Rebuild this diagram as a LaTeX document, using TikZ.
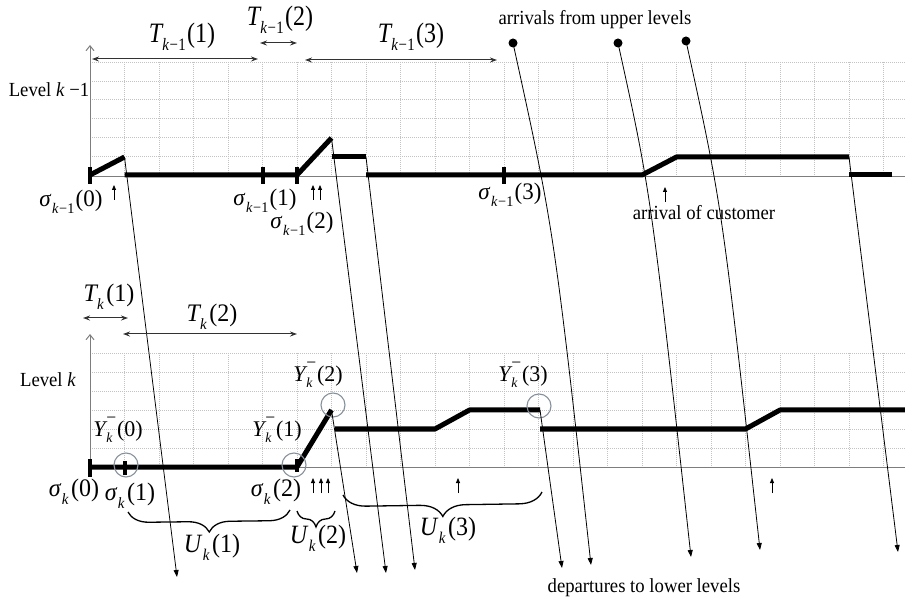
\documentclass[tikz,border=0pt]{standalone}
\usepackage{fontspec}
\setmainfont{Liberation Serif}
\usepackage{graphicx}
\usetikzlibrary{arrows.meta,decorations.pathreplacing}
\definecolor{gridc}{RGB}{195,195,195}
\definecolor{axisc}{RGB}{125,125,125}
\definecolor{circc}{RGB}{135,145,155}
\definecolor{darr}{RGB}{50,50,50}
\newcommand{\vs}[2]{\scalebox{1}[#1]{#2}}
\newcommand{\subs}[1]{\raisebox{-0.3em}{\scalebox{0.62}{#1}}}
\newcommand{\km}{\textit{k}\kern0.04em−\kern0.02em1}
\newcommand{\Tkm}[1]{\vs{1.17}{\textit{T}\kern-0.06em\subs{\km}\kern0.05em(#1)}}
\newcommand{\Tkk}[1]{\vs{1.05}{\textit{T}\kern-0.06em\subs{\textit{k}}\kern0.1em(#1)}}
\newcommand{\Skm}[1]{\vs{1.03}{\textit{σ}\kern0.02em\subs{\km}\kern0.05em(#1)}}
\newcommand{\Skk}[1]{\vs{1.05}{\textit{σ}\kern0.02em\subs{\textit{k}}\kern0.1em(#1)}}
\newcommand{\Ukk}[1]{\vs{1.1}{\textit{U}\kern0.02em\subs{\textit{k}}\kern0.1em(#1)}}
\newcommand{\Ykk}[1]{\vs{1.02}{\textit{Y}\kern-0.05em\rlap{\raisebox{0.55em}{\scalebox{0.8}{−}}}\subs{\textit{k}}\kern0.2em(#1)}}
\newcommand{\tx}[1]{\vs{1.07}{#1}}
\begin{document}
\begin{tikzpicture}[x=1pt,y=-1pt,
  txt/.style={inner sep=0pt,font=\fontsize{18.7}{20}\selectfont},
  mlab/.style={inner sep=0pt,font=\fontsize{24}{26}\selectfont},
  slab/.style={inner sep=0pt,font=\fontsize{23}{25}\selectfont},
  ylab/.style={inner sep=0pt,font=\fontsize{22}{24}\selectfont},
  gridline/.style={gridc,line width=0.6pt,dash pattern=on 1pt off 1pt},
  axisline/.style={axisc,line width=1pt},
  axarrow/.style={axisc,line width=1pt,-{Straight Barb[length=5pt,width=8pt]}},
  level/.style={line width=5pt,line join=round},
  tickmark/.style={line width=4pt},
  circ/.style={circle,draw=circc,line width=1.1pt,minimum size=24pt,inner sep=0pt},
  dotn/.style={circle,fill=black,minimum size=9pt,inner sep=0pt},
  depline/.style={line width=0.8pt,-{Triangle[length=7pt,width=5pt]}},
  uparr/.style={line width=0.8pt,-{Triangle[length=5pt,width=4pt]}},
  darrow/.style={darr,line width=1pt,{Stealth[length=7pt,width=5pt]}-{Stealth[length=7pt,width=5pt]}},
  bracestyle/.style={line width=1.3pt,decorate,decoration={brace,mirror,amplitude=#1}}
]
\useasboundingbox (0,0) rectangle (905,601);
% grids
\foreach \i in {0,...,23}{
  \draw[gridline] (90+34.5*\i,62) -- (90+34.5*\i,175);
  \draw[gridline] (90+34.5*\i,353) -- (90+34.5*\i,467);
}
\foreach \j in {0,...,5}{
  \draw[gridline] (90,62+18.83*\j) -- (905,62+18.83*\j);
  \draw[gridline] (90,353+19*\j) -- (905,353+19*\j);
}
% axes
\coordinate (ax1o) at (90,176.5);
\coordinate (ax1x) at (905,176.5);
\coordinate (ax1y) at (90,45);
\coordinate (ax2o) at (90,467.5);
\coordinate (ax2x) at (905,467.5);
\coordinate (ax2y) at (90,334);
\draw[axisline] (ax1o) -- (ax1x);
\draw[axarrow] (ax1o) -- (ax1y);
\draw[axisline] (ax2o) -- (ax2x);
\draw[axarrow] (ax2o) -- (ax2y);
% top level path
\coordinate (t0) at (90,175);
\coordinate (t1) at (124.5,157);
\coordinate (t2) at (124.5,175);
\coordinate (t3) at (297,175);
\coordinate (t4) at (331.5,138);
\coordinate (t5) at (331.5,157);
\coordinate (t6) at (366,157);
\coordinate (t7) at (366,175);
\coordinate (t8) at (642,175);
\coordinate (t9) at (676.5,157);
\coordinate (t10) at (849,157);
\coordinate (t11) at (849,175);
\coordinate (t12) at (892,175);
\draw[level] (t0) -- (t1);
\draw[level] (t2) -- (t3) -- (t4);
\draw[level] (t5) -- (t6);
\draw[level] (t7) -- (t8) -- (t9) -- (t10);
\draw[level] (t11) -- (t12);
\foreach \x in {90,262.5,297,504}{\draw[tickmark] (\x,167) -- (\x,184);}
% lower level path
\coordinate (b0) at (90,467);
\coordinate (b1) at (297,467);
\coordinate (b2) at (331.5,410);
\coordinate (b3) at (335,429);
\coordinate (b4) at (435,429);
\coordinate (b5) at (469.5,410);
\coordinate (b6) at (540,410);
\coordinate (b7) at (540,429);
\coordinate (b8) at (745.5,429);
\coordinate (b9) at (780,410);
\coordinate (b10) at (905,410);
\draw[level] (b0) -- (b1) -- (b2);
\draw[level] (b3) -- (b4) -- (b5) -- (b6);
\draw[level] (b7) -- (b8) -- (b9) -- (b10);
\draw[tickmark] (90,459) -- (90,477);
\draw[tickmark] (124.5,461) -- (124.5,475);
\draw[tickmark] (297,459) -- (297,472);
% circles
\node[circ] (c0) at (126,465) {};
\node[circ] (c1) at (294,465) {};
\node[circ] (c2) at (333,405) {};
\node[circ] (c3) at (539,406) {};
% dots
\node[dotn] (d1) at (513,43) {};
\node[dotn] (d2) at (618,43) {};
\node[dotn] (d3) at (686,41) {};
% departure ends
\coordinate (e1) at (177,577);
\coordinate (e2) at (357,573);
\coordinate (e3) at (386,573);
\coordinate (e4) at (415,570);
\coordinate (e5) at (562,568);
\coordinate (e6) at (591,565);
\coordinate (e7) at (691,557);
\coordinate (e8) at (760,550);
\coordinate (e9) at (898,552);
\draw[depline] (t1) -- (e1);
\draw[depline] (b2) -- (e2);
\draw[depline] (t4) -- (e3);
\draw[depline] (t6) -- (e4);
\draw[depline] (b6) -- (e5);
\draw[depline] (d1.center) .. controls (554,230) .. (e6);
\draw[depline] (d2.center) .. controls (651,193) .. (e7);
\draw[depline] (d3.center) .. controls (722,205) .. (e8);
\draw[depline] (t10) -- (e9);
% small up arrows
\foreach \n/\x/\y in {1/114/200,2/313/200,3/320/200,4/665/202,5/313/493,6/321/493,7/328/493,8/458/493,9/772/493}{
  \coordinate (us\n) at (\x,\y);
  \coordinate (ue\n) at (\x,\y-15);
  \draw[uparr] (us\n) -- (ue\n);
}
% interval arrows
\coordinate (ia1) at (92,59);  \coordinate (ib1) at (258,59);
\coordinate (ia2) at (260,43); \coordinate (ib2) at (297,43);
\coordinate (ia3) at (305,60); \coordinate (ib3) at (497,60);
\coordinate (ia4) at (83,318); \coordinate (ib4) at (128,318);
\coordinate (ia5) at (123,334);\coordinate (ib5) at (297,334);
\draw[darrow] (ia1) -- (ib1);
\draw[darrow] (ia2) -- (ib2);
\draw[darrow] (ia3) -- (ib3);
\draw[darrow] (ia4) -- (ib4);
\draw[darrow] (ia5) -- (ib5);
% braces
\coordinate (br1a) at (128,512); \coordinate (br1b) at (290,510);
\coordinate (br2a) at (297,511); \coordinate (br2b) at (335,511);
\coordinate (br3a) at (343,495); \coordinate (br3b) at (542,492);
\draw[bracestyle=21pt] (br1a) -- (br1b);
\draw[bracestyle=16pt] (br2a) -- (br2b);
\draw[bracestyle=23pt] (br3a) -- (br3b);
% labels
\node[mlab] (lT1) at (182,37) {\Tkm{1}};
\node[mlab] (lT2) at (280,20) {\Tkm{2}};
\node[mlab] (lT3) at (411,37) {\Tkm{3}};
\node[txt] (arrtxt) at (595,20) {\tx{arrivals from upper levels}};
\node[txt] (lv1) at (49,90) {\tx{Level \textit{k} −1}};
\node[slab] (s0) at (71,202) {\Skm{0}};
\node[slab] (s1) at (265,201) {\Skm{1}};
\node[slab] (s2) at (302,224) {\Skm{2}};
\node[slab] (s3) at (510,195) {\Skm{3}};
\node[txt] (aoc) at (704,213) {\tx{arrival of customer}};
\node[mlab] (Tk1) at (109,297) {\Tkk{1}};
\node[mlab] (Tk2) at (212,317) {\Tkk{2}};
\node[txt] (lvk) at (48,380) {\tx{Level \textit{k}}};
\node[ylab] (y0) at (118,430) {\Ykk{0}};
\node[ylab] (y1) at (277,430) {\Ykk{1}};
\node[ylab] (y2) at (318,375) {\Ykk{2}};
\node[ylab] (y3) at (523,375) {\Ykk{3}};
\node[mlab] (sk0) at (74,492) {\Skk{0}};
\node[mlab] (sk1) at (130,496) {\Skk{1}};
\node[mlab] (sk2) at (276,492) {\Skk{2}};
\node[mlab] (U1) at (212,547) {\Ukk{1}};
\node[mlab] (U2) at (318,538) {\Ukk{2}};
\node[mlab] (U3) at (448,530) {\Ukk{3}};
\node[txt] (deptxt) at (644,588) {\tx{departures to lower levels}};
\end{tikzpicture}
\end{document}
